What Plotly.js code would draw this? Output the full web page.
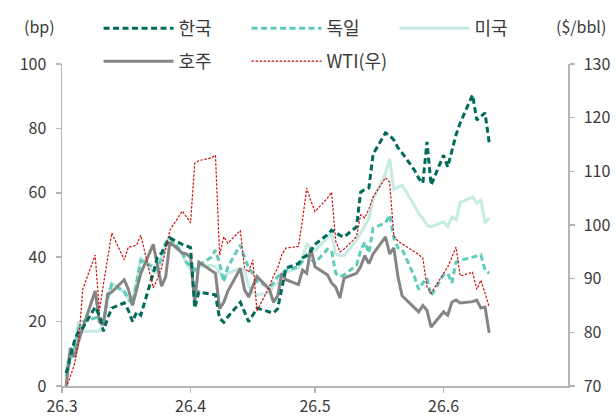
<!DOCTYPE html>
<html>
<head>
<meta charset="utf-8">
<script src="https://cdn.plot.ly/plotly-3.0.1.min.js"></script>
<style>html,body{margin:0;padding:0;background:#fff;}#chart{width:616px;height:417px;}</style>
</head>
<body>
<div id="chart"></div>
<script>
const dates = [
 '2026-03-02','2026-03-03','2026-03-04','2026-03-05','2026-03-06',
 '2026-03-09','2026-03-10','2026-03-11','2026-03-12','2026-03-13',
 '2026-03-16','2026-03-17','2026-03-18','2026-03-19','2026-03-20',
 '2026-03-23','2026-03-24','2026-03-25','2026-03-26','2026-03-27',
 '2026-03-30','2026-03-31','2026-04-01','2026-04-02','2026-04-03',
 '2026-04-06','2026-04-07','2026-04-08','2026-04-09','2026-04-10',
 '2026-04-13','2026-04-14','2026-04-15','2026-04-16','2026-04-17',
 '2026-04-20','2026-04-21','2026-04-22','2026-04-23','2026-04-24',
 '2026-04-27','2026-04-28','2026-04-29','2026-04-30','2026-05-01',
 '2026-05-04','2026-05-05','2026-05-06','2026-05-07','2026-05-08',
 '2026-05-11','2026-05-12','2026-05-13','2026-05-14','2026-05-15',
 '2026-05-18','2026-05-19','2026-05-20','2026-05-21','2026-05-22',
 '2026-05-25','2026-05-26','2026-05-27','2026-05-28','2026-05-29',
 '2026-06-01','2026-06-02','2026-06-03','2026-06-04','2026-06-05',
 '2026-06-08','2026-06-09','2026-06-10','2026-06-11','2026-06-12'
];
const korea = [
 4, 9, 14, 17, 18,
 24.5, 22, 17, 21, 24.2,
 25.8, 23.5, 20, 23, 22,
 35, 40, 41.3, 43.5, 46,
 44, 43.5, 43, 24.2, 29.2,
 28.5, 28.3, 21, 19.8, 21.5,
 26, 23, 20, 22, 24.2,
 23, 22.7, 24, 30.5, 36.6,
 38, 39.8, 40.5, 42, 44,
 47, 48.4, 47.5, 46.8, 46.3,
 49.4, 60.2, 61, 61.5, 72,
 78.6, 77.8, 76.4, 74, 72.4,
 67, 64.5, 63, 75.8, 62.4,
 71.7, 68, 73, 78, 81.7,
 90.4, 82.6, 83.8, 84.8, 75.5
];
const germany = [
 3, 8, 12, 18, 20,
 21, 21.5, 20, 27, 31.5,
 29.5, 27, 25.5, 32, 39,
 37, 36, 40, 44.5, 46,
 41.5, 38.5, 37, 36, 37.5,
 40, 42.2, 38, 32.3, 37,
 43.8, 40, 36.6, 35, 32.5,
 30.7, 32, 34, 35, 36,
 37, 39, 40.7, 39.5, 38.2,
 42.5, 42, 35, 34, 34.5,
 37.5, 42, 44.7, 41.3, 49,
 50.7, 53.1, 46, 42.9, 42.5,
 33.9, 30, 32, 33.5, 28,
 34.5, 35, 32, 38.5, 39,
 40, 40.3, 40.7, 36, 35
];
const usa = [
 6, 10, 12, 20, 17,
 17, 17, 20, 28, 32,
 29, 27, 26, 33, 40,
 35.4, 35, 40, 45, 46,
 41, 38, 36, 35.4, 37,
 37.5, 37, 35, 34, 35,
 36.5, 36, 31, 29, 28.3,
 29, 31, 32, 34, 35.4,
 36.6, 40, 44, 43, 42,
 46, 47.8, 41, 40.5, 40.5,
 45.3, 47.5, 50, 52, 58,
 66, 70.5, 61, 61.8, 62.4,
 56, 53.5, 52, 50, 49.4,
 51, 49.5, 52.5, 51.6, 57,
 58.7, 56.8, 57.8, 50.6, 52.2
];
const australia = [
 0, 11.8, 9, 14, 18,
 29.5, 20, 19, 28.5, 29.2,
 33, 30, 25, 30, 35,
 44, 38, 31, 33.9, 44.7,
 41.3, 41, 40, 26, 38.5,
 36, 35, 24, 26, 29.5,
 36.5, 30, 27.6, 31, 34,
 30, 26, 28, 35, 33,
 31.5, 36, 35, 42.9, 37,
 34.5, 32, 30.7, 27.3, 33.5,
 35, 37, 40.5, 38, 41,
 46.3, 41, 42.9, 34, 28,
 24, 23, 25, 23.5, 18.3,
 23, 22, 26, 26.7, 25.8,
 26.2, 26.7, 24.2, 24.5, 16.5
];
const wti = [
 69.6, 72, 74, 78, 88,
 94.4, 84, 89, 94, 98.5,
 93.5, 95.9, 96, 96.3, 98.1,
 88.3, 90, 92, 95.5, 99,
 102.6, 101.5, 100.4, 111.5, 112,
 112.5, 113, 94.4, 97.8, 96.6,
 99, 92, 91.2, 93.5, 84,
 88.5, 90.5, 92, 94.5, 95.7,
 96, 101, 106.9, 104.5, 102.5,
 105, 106.1, 97, 95, 95.5,
 97.8, 101.9, 101.3, 103, 105.2,
 108.8, 108, 98, 97, 96.5,
 95, 94.5, 93.8, 88.5, 87.3,
 91, 92.2, 94, 95.9, 90.5,
 91.2, 88, 89.7, 87.3, 84.7
];
const names = ['한국', '독일', '미국', '호주', 'WTI(우)'];
const xTicks = ['2026-03-01','2026-04-01','2026-05-01','2026-06-01'];

const FONT = 'Noto Sans CJK KR, Noto Sans, sans-serif';
const TXT = '#3a3a3a';
const AX = '#b4b4b4';

const traces = [
  {x: dates, y: korea, name: names[0], legend: 'legend', legendrank: 1, mode: 'lines', line: {color: '#006b5b', width: 3, dash: '6px,3.5px'}},
  {x: dates, y: germany, name: names[1], legend: 'legend', legendrank: 2, mode: 'lines', line: {color: '#5ecbbb', width: 3, dash: '6px,3.5px'}},
  {x: dates, y: usa, name: names[2], legend: 'legend', legendrank: 3, mode: 'lines', line: {color: '#c5ebe4', width: 3}},
  {x: dates, y: australia, name: names[3], legend: 'legend2', legendrank: 1, mode: 'lines', line: {color: '#858585', width: 3}},
  {x: dates, y: wti, name: names[4], legend: 'legend2', legendrank: 2, mode: 'lines', yaxis: 'y2', line: {color: '#cc1010', width: 1.2, dash: '2.5px,1.5px'}}
];
// draw order: lighter series underneath
const order = [2, 1, 3, 0, 4];
const data = order.map(i => traces[i]);

function legendBox(yTop) {
  return {
    orientation: 'h', xref: 'container', yref: 'container',
    x: 0.16, y: yTop, xanchor: 'left', yanchor: 'top',
    traceorder: 'normal', itemwidth: 70,
    entrywidth: 63, entrywidthmode: 'pixels',
    font: {family: FONT, size: 18, color: TXT},
    bgcolor: 'rgba(0,0,0,0)'
  };
}

const layout = {
  width: 616, height: 417,
  margin: {l: 62, r: 48, t: 64, b: 31, autoexpand: false},
  paper_bgcolor: '#fff', plot_bgcolor: '#fff',
  font: {family: FONT, size: 16, color: TXT},
  showlegend: true,
  legend: legendBox(1 - 10 / 417),
  legend2: legendBox(1 - 43 / 417),
  xaxis: {
    type: 'date', range: ['2026-03-01', '2026-07-01'],
    tickvals: xTicks, tickformat: '%y.%-m',
    showgrid: false, zeroline: false,
    showline: true, linecolor: AX, linewidth: 1.5,
    ticks: 'outside', ticklen: 5, tickcolor: AX, tickwidth: 1.5,
    tickfont: {family: FONT, size: 16, color: TXT}
  },
  yaxis: {
    range: [0, 100], dtick: 20, showgrid: false, zeroline: false,
    showline: true, linecolor: AX, linewidth: 1.5,
    ticks: 'outside', ticklen: 5, tickcolor: AX, tickwidth: 1.5,
    ticklabelstandoff: 6,
    tickfont: {family: FONT, size: 16, color: TXT}
  },
  yaxis2: {
    range: [70, 130], dtick: 10, overlaying: 'y', side: 'right',
    showgrid: false, zeroline: false,
    showline: true, linecolor: AX, linewidth: 1.5,
    ticks: 'outside', ticklen: 5, tickcolor: AX, tickwidth: 1.5,
    ticklabelstandoff: 6,
    tickfont: {family: FONT, size: 16, color: TXT}
  },
  annotations: [
    {text: '(bp)', xref: 'paper', yref: 'paper', x: -0.0435, y: 1.118, xanchor: 'center', yanchor: 'middle', showarrow: false, font: {family: FONT, size: 16, color: TXT}},
    {text: '($/bbl)', xref: 'paper', yref: 'paper', x: 1.08, y: 1.118, xanchor: 'right', yanchor: 'middle', showarrow: false, font: {family: FONT, size: 16, color: TXT}}
  ]
};

Plotly.newPlot('chart', data, layout, {staticPlot: true, displayModeBar: false});
</script>
</body>
</html>
